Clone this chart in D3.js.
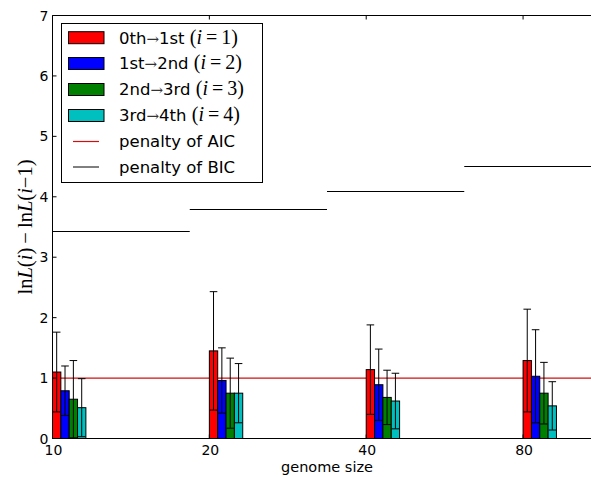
<!DOCTYPE html>
<html><head><meta charset="utf-8">
<script src="https://cdn.jsdelivr.net/npm/d3@7"></script>
<style>body{margin:0;background:#fff}svg{display:block}</style>
</head><body>
<script>
const genomeSizes = ["10", "20", "40", "80"];
const seriesNames = ["0th", "1st", "2nd", "3rd", "4th"];
const meanGain = [
  [1.10, 1.45, 1.14, 1.29],
  [0.79, 0.96, 0.89, 1.03],
  [0.65, 0.75, 0.68, 0.75],
  [0.51, 0.75, 0.62, 0.54]
];
const errGain = [
  [0.66, 0.98, 0.74, 0.85],
  [0.41, 0.54, 0.59, 0.77],
  [0.64, 0.58, 0.45, 0.51],
  [0.48, 0.49, 0.46, 0.40]
];
const aicPenalty = 1;
const bicPenalty = [3.44, 3.80, 4.10, 4.51];
const yTicks = [0, 1, 2, 3, 4, 5, 6, 7];
const colors = ["#ff0000", "#0000ff", "#008000", "#00bfbf"];

(function () {
const W = 591, H = 477;
const svg = d3.select("body").append("svg").attr("width", W).attr("height", H);
const pL = 52.5, pT = 15.5, pB = 438.5, pR = 601.5;
const x = d3.scaleLinear().domain([0, 3.5]).range([pL, pR]);
const y = d3.scaleLinear().domain([0, 7]).range([pB, pT]);
const bw = 0.0532;

const plot = svg.append("g");
// BIC lines
bicPenalty.forEach((v, i) => {
  plot.append("line").attr("x1", x(i * 0.875)).attr("x2", x((i + 1) * 0.875))
    .attr("y1", Math.round(y(v)) + 0.5).attr("y2", Math.round(y(v)) + 0.5)
    .attr("stroke", "#000").attr("stroke-width", 1);
});
// AIC line
plot.append("line").attr("x1", x(0)).attr("x2", x(3.5))
  .attr("y1", y(aicPenalty)).attr("y2", y(aicPenalty))
  .attr("stroke", "#d01010").attr("stroke-width", 1.2);

// bars
meanGain.forEach((vals, s) => {
  vals.forEach((v, g) => {
    const x0 = x(g + s * bw), x1 = x(g + (s + 1) * bw);
    plot.append("rect").attr("x", x0).attr("y", y(v))
      .attr("width", x1 - x0).attr("height", y(0) - y(v))
      .attr("fill", colors[s]).attr("stroke", "#000").attr("stroke-width", 1);
  });
});
// error bars
meanGain.forEach((vals, s) => {
  vals.forEach((v, g) => {
    const cx = x(g + (s + 0.5) * bw);
    const hi = v + errGain[s][g], lo = Math.max(0, v - errGain[s][g]);
    const eg = plot.append("g").attr("stroke", "#000").attr("stroke-width", 1);
    eg.append("line").attr("x1", cx).attr("x2", cx).attr("y1", y(lo)).attr("y2", y(hi));
    [lo, hi].forEach(t => {
      eg.append("line").attr("x1", cx - 3.8).attr("x2", cx + 3.8).attr("y1", y(t)).attr("y2", y(t));
    });
  });
});

// axes frame
const ax = svg.append("g").attr("stroke", "#000").attr("stroke-width", 1).attr("fill", "none");
ax.append("line").attr("x1", pL).attr("x2", pL).attr("y1", pT).attr("y2", pB);
ax.append("line").attr("x1", pL).attr("x2", W).attr("y1", pT).attr("y2", pT);
ax.append("line").attr("x1", pL).attr("x2", W).attr("y1", pB).attr("y2", pB);

// y ticks
yTicks.forEach(t => {
  ax.append("line").attr("x1", pL).attr("x2", pL + 4).attr("y1", y(t)).attr("y2", y(t));
  svg.append("text").attr("x", 48.5).attr("y", y(t)).attr("dy", "0.36em")
    .attr("text-anchor", "end").attr("font-family", "DejaVu Sans").attr("font-size", 14).text(t);
});
// x ticks
genomeSizes.forEach((lab, i) => {
  ax.append("line").attr("x1", x(i)).attr("x2", x(i)).attr("y1", pB).attr("y2", pB - 4);
  ax.append("line").attr("x1", x(i)).attr("x2", x(i)).attr("y1", pT).attr("y2", pT + 4);
  svg.append("text").attr("x", x(i) + 1).attr("y", 455).attr("text-anchor", "middle")
    .attr("font-family", "DejaVu Sans").attr("font-size", 14).text(lab);
});
svg.append("text").attr("x", (pL + pR) / 2).attr("y", 472).attr("text-anchor", "middle")
  .attr("font-family", "DejaVu Sans").attr("font-size", 14.5).text("genome size");

// y label
const yl = svg.append("text").attr("transform", `translate(32,${(pT + pB) / 2}) rotate(-90)`)
  .attr("text-anchor", "middle").attr("font-family", "Liberation Serif").attr("font-size", 20.5);
const parts = [["ln", false], ["L", true], ["(", false], ["i", true], [")\u2009\u2212\u2009ln", false], ["L", true], ["(", false], ["i", true], ["\u2212", false], ["1)", false]];
parts.forEach(([t, it]) => yl.append("tspan").attr("font-style", it ? "italic" : "normal").text(t));

// legend
const lg = svg.append("g");
lg.append("rect").attr("x", 61.5).attr("y", 23.5).attr("width", 201).attr("height", 159)
  .attr("fill", "#fff").attr("stroke", "#000").attr("stroke-width", 1);
const rowY = [37.7, 63.5, 89.5, 115.5, 141.5, 167];
for (let s = 0; s < 4; s++) {
  lg.append("rect").attr("x", 68.5).attr("y", rowY[s] - 6).attr("width", 35.5).attr("height", 12)
    .attr("fill", colors[s]).attr("stroke", "#000").attr("stroke-width", 1);
  const t = lg.append("text").attr("x", 119).attr("y", rowY[s]).attr("dy", "0.36em")
    .attr("font-family", "DejaVu Sans").attr("font-size", 16.5);
  t.append("tspan").text(seriesNames[s]);
  t.append("tspan").attr("font-family", "DejaVu Serif").attr("font-size", 15).attr("fill", "#333").text("\u2192");
  t.append("tspan").text(seriesNames[s + 1] + " ");
  t.append("tspan").attr("font-family", "Liberation Serif").attr("font-size", 20).text("(");
  t.append("tspan").attr("font-family", "Liberation Serif").attr("font-size", 20).attr("font-style", "italic").text("i");
  t.append("tspan").attr("font-family", "Liberation Serif").attr("font-size", 20).text("\u2009=\u2009" + (s + 1) + ")");
}
const lineLeg = [["penalty of AIC", "#d01010"], ["penalty of BIC", "#000"]];
lineLeg.forEach(([lab, c], k) => {
  const yy = rowY[4 + k];
  lg.append("line").attr("x1", 73).attr("x2", 99).attr("y1", yy).attr("y2", yy)
    .attr("stroke", c).attr("stroke-width", k === 0 ? 1.2 : 1);
  lg.append("text").attr("x", 119).attr("y", yy).attr("dy", "0.36em")
    .attr("font-family", "DejaVu Sans").attr("font-size", 16.5).text(lab);
});
})();
</script>
</body></html>
